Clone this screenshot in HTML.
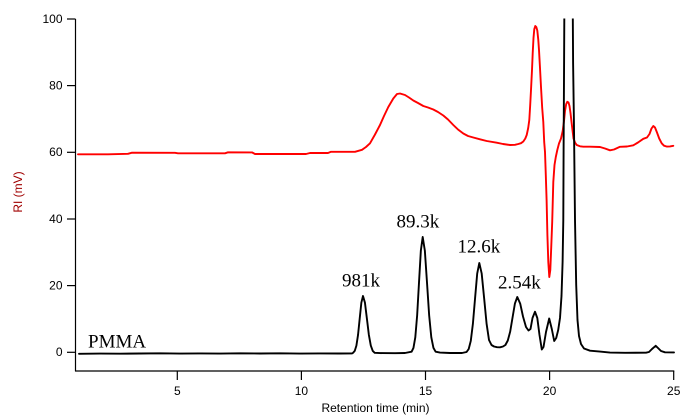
<!DOCTYPE html>
<html>
<head>
<meta charset="utf-8">
<style>
html,body{margin:0;padding:0;background:#fff;}
svg{display:block;}
.tk{font-family:"Liberation Sans",Arial,sans-serif;font-size:12px;fill:#000;}
.an{font-family:"Liberation Serif","Times New Roman",serif;font-size:19px;fill:#000;}
</style>
</head>
<body>
<svg width="684" height="415" viewBox="0 0 684 415" xmlns="http://www.w3.org/2000/svg">
<defs>
<clipPath id="pc"><rect x="76" y="18.5" width="600" height="352"/></clipPath>
</defs>
<rect x="0" y="0" width="684" height="415" fill="#fff"/>

<!-- axes -->
<g stroke="#000" stroke-width="1.2" fill="none">
<line x1="75.5" y1="19" x2="75.5" y2="371.3"/>
<line x1="75" y1="371" x2="674.3" y2="371"/>
<!-- y ticks -->
<line x1="67" y1="352.3" x2="75.5" y2="352.3"/>
<line x1="67" y1="285.6" x2="75.5" y2="285.6"/>
<line x1="67" y1="219" x2="75.5" y2="219"/>
<line x1="67" y1="152.3" x2="75.5" y2="152.3"/>
<line x1="67" y1="85.6" x2="75.5" y2="85.6"/>
<line x1="67" y1="19" x2="75.5" y2="19"/>
<!-- x ticks -->
<line x1="177.3" y1="371" x2="177.3" y2="380"/>
<line x1="301.4" y1="371" x2="301.4" y2="380"/>
<line x1="425.5" y1="371" x2="425.5" y2="380"/>
<line x1="549.6" y1="371" x2="549.6" y2="380"/>
<line x1="673.7" y1="371" x2="673.7" y2="380"/>
</g>

<!-- y tick labels -->
<g class="tk" text-anchor="end">
<text x="62.5" y="356.1">0</text>
<text x="62.5" y="289.4">20</text>
<text x="62.5" y="222.8">40</text>
<text x="62.5" y="156.1">60</text>
<text x="62.5" y="89.4">80</text>
<text x="62.5" y="22.8">100</text>
</g>
<!-- x tick labels -->
<g class="tk" text-anchor="middle">
<text x="177.3" y="395">5</text>
<text x="301.4" y="395">10</text>
<text x="425.5" y="395">15</text>
<text x="549.6" y="395">20</text>
<text x="673.7" y="395">25</text>
<text x="375.5" y="412">Retention time (min)</text>
</g>
<text class="tk" x="0" y="0" text-anchor="middle" fill="#a00000" style="fill:#a00000" transform="translate(22,192) rotate(-90)">RI (mV)</text>

<!-- series -->
<g clip-path="url(#pc)" fill="none" stroke-width="1.9" stroke-linejoin="round" stroke-linecap="round">
<path stroke="#ff0000" d="M78,154.3 L108,154.3 L128,153.8 L132,152.7 L175,152.8 L178,153.3 L225,153.3 L228,152.3 L252,152.4 L255,154 L306,154 L310,153 L328,153 L331,151.8 L355,151.8 L362,149.8 L366,147 L370,143.3 L375,134.5 L380,125 L384,116 L388.3,107 L393.3,98.5 L397,94 L400,93.5 L405,95 L409,97.5 L413.3,100.5 L418,103 L423.3,106 L428,107.5 L433.3,109.5 L438,112 L443.3,115.5 L448,119.5 L453.3,125 L458,129.5 L463.3,133.5 L468,136 L473.3,137.5 L480,139.3 L486.7,141 L496.7,142.7 L503,144 L510,145 L515,144.8 L518.3,144 L521,143.2 L523.3,141.5 L525.3,138.5 L526.7,135 L528.2,128 L529.3,120 L530.2,105 L531,90 L532,70 L532.7,53.3 L533.5,38 L534.3,29 L535.3,26 L536.3,27 L537.3,30.5 L538.3,40 L539,50 L540,68 L541,87 L542.2,108 L543.3,122 L544.2,142 L545,152 L545.8,175 L546.6,200 L547.4,235 L548.3,262 L549.3,277 L550.3,270 L551.2,248 L552.2,222 L553.3,182 L554.5,165 L555.8,157 L557.3,150 L559,143.5 L561,138.5 L562.7,131 L564,121 L565,111 L566.2,104 L567.3,101.8 L568.5,102.5 L569.5,106 L570.5,113 L571.7,123.5 L572.6,131 L573.5,138.5 L575,142.5 L576.7,145 L580,146.3 L583.3,146.7 L590,146.7 L600,147 L605,148.5 L610,150.3 L614,149.5 L620,146.8 L627,146.5 L633.3,145.3 L638,142.5 L643.3,138.8 L647,137.5 L649.5,134 L651.5,128.5 L653.3,126 L655,127.5 L657,132.5 L659.2,138.5 L661.7,143.3 L664,145.7 L667,146.6 L670,146.4 L673.3,145.8"/>
<path stroke="#000" d="M79,353.8 L100,353.6 L120,353.7 L140,353.5 L160,353.3 L180,353.6 L200,353.4 L220,353.6 L240,353.3 L260,353.5 L280,353.3 L300,353.6 L320,353.4 L340,353.5 L352,353.4 L353.1,352.8 L354.75,350.9 L356.4,345.6 L358.05,334.8 L359.7,318.6 L361.35,302.7 L363,296 L364.95,302.7 L366.9,318.6 L368.85,334.8 L370.8,345.6 L372.75,350.9 L374.7,352.8 L380,353.1 L395,353.2 L405,353 L411.6,351.7 L413.45,347.9 L415.3,337.3 L417.15,315.3 L419,282.6 L420.85,250.6 L422.7,237 L424.85,250.6 L427,282.6 L429.15,315.3 L431.3,337.3 L433.45,347.9 L435.6,351.7 L440,352.6 L450,353 L462,353 L466.55,352 L468.7,349 L470.8,340.8 L472.9,323.8 L475.05,298.4 L477.2,273.6 L479.3,263 L481.7,273.6 L484.15,298.4 L486.6,323.8 L489,340 L491.5,345 L494,346.5 L497,347.2 L500,347.3 L503,346.5 L505.4,345 L507.8,340.5 L510.2,331.5 L512.55,317.5 L514.9,303.6 L517.3,297 L520.2,303.6 L523,316.5 L526,327 L528.5,330.5 L530.5,329 L532.5,318 L535,311.7 L537.3,318 L539.5,335 L541.8,349.5 L543.5,347 L546,332 L549.2,318.5 L551.8,329 L554.2,341 L556.2,338 L558.2,330 L560,318 L561.5,296 L562.6,262 L563.3,220 L563.6,150 L564.1,60 L564.4,0 L572.7,0 L573.1,63 L573.9,120 L575,220 L576.2,285 L577.5,320 L579,336 L581,344 L584,348.5 L590,350.7 L600,351.6 L610,352.6 L625,352.8 L646,352.7 L649,352 L652,349 L655.7,345.8 L658.5,348.5 L661,351 L665,352.3 L674,352.4"/>
</g>

<!-- annotations -->
<text class="an" x="88" y="347.7">PMMA</text>
<text class="an" x="342" y="286.7">981k</text>
<text class="an" x="396.5" y="227.7">89.3k</text>
<text class="an" x="457.5" y="252.7">12.6k</text>
<text class="an" x="498" y="288.3">2.54k</text>
</svg>
</body>
</html>
